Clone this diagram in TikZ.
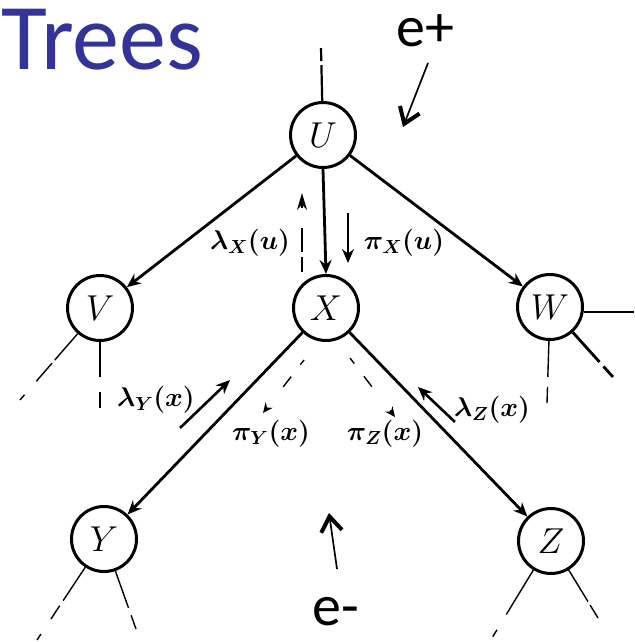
\RequirePackage{fix-cm}
\documentclass[tikz,border=0pt]{standalone}
\usepackage{amsmath}
\usepackage{fontspec}
\newfontfamily\slidefont{Carlito}
\usetikzlibrary{arrows.meta}
\definecolor{titleblue}{RGB}{51,51,153}
\begin{document}
\begin{tikzpicture}[x=1pt,y=-1pt,
  vnode/.style={draw, circle, line width=3pt, minimum size=65pt, inner sep=0pt, font=\fontsize{36}{36}\selectfont},
  edge/.style={line width=2.8pt, -{Stealth[length=14pt,width=12pt]}},
  stub/.style={line width=1.4pt},
  msg/.style={font=\fontsize{27}{27}\selectfont\boldmath, inner sep=0pt},
  msgarrow/.style={line width=2.6pt, -{Stealth[length=14pt,width=12pt]}},
  dasharrow/.style={line width=1.4pt, -{Stealth[length=10pt,width=9pt]}},
  evidence/.style={line width=1.7pt, -{Straight Barb[length=15pt,width=21pt,line width=4pt]}},
  elabel/.style={font=\slidefont\fontsize{58}{58}\selectfont, inner sep=0pt}
]
\useasboundingbox (0,0) rectangle (634,642);

% title
\node[anchor=base west, text=titleblue, font=\slidefont\fontsize{94}{94}\selectfont, inner sep=0pt, text height=62pt] (title) at (1,70) {Trees};

% nodes
\node[vnode] (U) at (323,135) {$U$};
\node[vnode] (V) at (100,308) {$V$};
\node[vnode] (X) at (326,308) {$X$};
\node[vnode] (W) at (550,307) {$W$};
\node[vnode] (Y) at (104,539) {$Y$};
\node[vnode] (Z) at (551,541) {$Z$};

% free ends of the stubs
\coordinate (ut) at (321,48);
\coordinate (vl) at (20,400);
\coordinate (vd) at (100,408);
\coordinate (wr) at (634,312);
\coordinate (wd) at (547,403);
\coordinate (wdr) at (613,377);
\coordinate (yl) at (37,640);
\coordinate (yr) at (136,629);
\coordinate (zl) at (492,638);
\coordinate (zr) at (598,618);

% stubs
\draw[line width=2.2pt, dash pattern=on 36pt off 4pt on 13pt] (U) -- (ut);
\draw[stub, dash pattern=on 35pt off 4pt on 24pt off 18pt on 8pt] (V) -- (vl);
\draw[stub, dash pattern=on 35pt off 15pt on 17pt] (V) -- (vd);
\draw[line width=1.8pt] (W.east |- wr) -- (wr);
\draw[stub, dash pattern=on 36pt off 10pt on 17pt] (W) -- (wd);
\draw[line width=2.8pt, dash pattern=on 40pt off 6pt on 15pt] (W) -- (wdr);
\draw[stub, dash pattern=on 40pt off 6pt on 16pt off 18pt on 8pt] (Y) -- (yl);
\draw[stub, dash pattern=on 39pt off 8pt on 15pt] (Y) -- (yr);
\draw[stub, dash pattern=on 52pt off 18pt on 8pt] (Z) -- (zl);
\draw[stub, dash pattern=on 37pt off 4pt on 16pt] (Z) -- (zr);

% main edges
\draw[edge] (U) -- (V);
\draw[edge] (U.south) -- (X.north);
\draw[edge] (U) -- (W);
\draw[edge] (X) -- (Y);
\draw[edge] (X) -- (Z);

% message labels
\node[msg] (lxu) at (250,243) {$\lambda_{X}(u)$};
\node[msg] (pxu) at (404,243) {$\pi_{X}(u)$};
\node[msg] (lyx) at (156,400) {$\lambda_{Y}(x)$};
\node[msg] (pyx) at (271,434) {$\pi_{Y}(x)$};
\node[msg] (pzx) at (385,434) {$\pi_{Z}(x)$};
\node[msg] (lzx) at (492,410) {$\lambda_{Z}(x)$};

% message arrows
\coordinate (pa1) at (348,213); \coordinate (pa2) at (348,263);
\draw[msgarrow] (pa1) -- (pa2);
\coordinate (la1) at (302,272); \coordinate (la2) at (302,193);
\draw[line width=1.4pt, -{Stealth[length=17pt,width=10pt]}, dash pattern=on 15pt off 5pt on 24pt off 20pt] (la1) -- (la2);
\coordinate (ly1) at (180,428); \coordinate (ly2) at (230,380);
\draw[msgarrow] (ly1) -- (ly2);
\coordinate (lz1) at (455,422); \coordinate (lz2) at (418,387);
\draw[msgarrow] (lz1) -- (lz2);
\coordinate (py1) at (304,360); \coordinate (py2) at (263,413);
\draw[dasharrow, dash pattern=on 6pt off 15pt on 13pt off 30pt] (py1) -- (py2);
\coordinate (pz1) at (350,358); \coordinate (pz2) at (395,417);
\draw[dasharrow, dash pattern=on 7pt off 16pt on 13pt off 30pt] (pz1) -- (pz2);

% evidence labels and arrows
\node[elabel] (eplus) at (425,31) {e+};
\node[elabel] (eminus) at (336,612) {e-};
\coordinate (ep1) at (428,63); \coordinate (ep2) at (403,127);
\draw[evidence] (ep1) -- (ep2);
\coordinate (em1) at (337,569); \coordinate (em2) at (329,513);
\draw[evidence] (em1) -- (em2);
\end{tikzpicture}
\end{document}
